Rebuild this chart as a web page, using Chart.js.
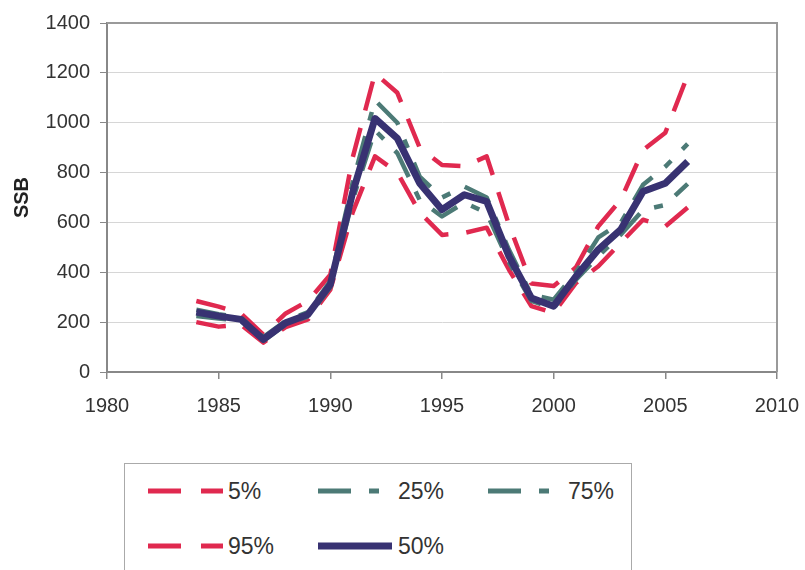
<!DOCTYPE html>
<html>
<head>
<meta charset="utf-8">
<script src="https://cdn.jsdelivr.net/npm/chart.js@4.4.1/dist/chart.umd.min.js"></script>
<style>
  html, body { margin: 0; padding: 0; background: #fff; overflow: hidden; }
  #wrap { position: relative; width: 805px; height: 570px; }
  #chart { position: absolute; left: 0; top: 0; }
  #legend {
    position: absolute; left: 124px; top: 463px; width: 508px; height: 130px;
    border: 1.5px solid #aaa; box-sizing: border-box;
    font-family: "Liberation Sans", Arial, sans-serif; font-size: 23px; color: #333;
  }
  .item { position: absolute; height: 30px; }
  .item svg { position: absolute; left: 0; top: 0; }
  .item span { position: absolute; top: 0; line-height: 30px; white-space: nowrap; }
</style>
</head>
<body>
<div id="wrap">
  <canvas id="chart" width="805" height="440"></canvas>
  <div id="legend"></div>
</div>
<script>
// SSB percentiles by year
const years = [1984, 1985, 1986, 1987, 1988, 1989, 1990, 1991, 1992, 1993, 1994, 1995,
               1996, 1997, 1998, 1999, 2000, 2001, 2002, 2003, 2004, 2005, 2006];
const p5  = [200, 182, 190, 118, 180, 211, 330, 640, 865, 800, 640, 550,
             558, 579, 410, 264, 237, 357, 424, 518, 611, 584, 660];
const p25 = [225, 215, 205, 125, 190, 222, 340, 690, 970, 878, 690, 624,
             680, 638, 440, 285, 255, 370, 464, 551, 650, 670, 755];
const p50 = [240, 224, 211, 131, 197, 231, 351, 720, 1017, 937, 757, 651,
             711, 684, 464, 297, 264, 384, 491, 571, 724, 757, 844];
const p75 = [250, 232, 218, 140, 205, 240, 365, 760, 1090, 1000, 784, 700,
             744, 700, 490, 310, 290, 400, 540, 598, 751, 824, 915];
const p95 = [285, 262, 235, 150, 235, 285, 390, 860, 1198, 1120, 900, 830,
             825, 865, 590, 355, 345, 420, 585, 690, 890, 960, 1190];
const xTicks = { min: 1980, max: 2010, step: 5 };
const yTicks = { min: 0, max: 1400, step: 200 };

const FONT = '"Liberation Sans", Arial, sans-serif';
const RED = '#e0294f', TEAL = '#4c7a76', NAVY = '#383272';

const pts = vals => years.map((y, i) => ({ x: y, y: vals[i] }));

// median first so it sits on top
const series = [
  { label: '50%', data: p50, color: NAVY, width: 7, dash: [] },
  { label: '25%', data: p25, color: TEAL, width: 4.5, dash: [30, 16, 9, 16] },
  { label: '75%', data: p75, color: TEAL, width: 4.5, dash: [30, 16, 9, 16] },
  { label: '5%',  data: p5,  color: RED,  width: 4.5, dash: [30, 18] },
  { label: '95%', data: p95, color: RED,  width: 4.5, dash: [30, 18] },
];

// top + right edges of the plot box
const frame = {
  id: 'frame',
  afterDraw(chart) {
    const { ctx, chartArea: a } = chart;
    ctx.save();
    ctx.strokeStyle = '#9a9a9a';
    ctx.lineWidth = 2;
    ctx.beginPath();
    ctx.moveTo(a.left, a.top);
    ctx.lineTo(a.right, a.top);
    ctx.lineTo(a.right, a.bottom);
    ctx.stroke();
    ctx.restore();
  }
};

new Chart(document.getElementById('chart').getContext('2d'), {
  type: 'line',
  data: {
    datasets: series.map(s => ({
      label: s.label,
      data: pts(s.data),
      borderColor: s.color,
      borderWidth: s.width,
      borderDash: s.dash,
      borderCapStyle: 'butt',
      borderJoinStyle: 'round',
      pointRadius: 0,
      tension: 0,
      fill: false,
    })),
  },
  options: {
    responsive: false,
    animation: false,
    devicePixelRatio: 1,
    layout: { padding: { left: 0, right: 28, top: 23, bottom: 0 } },
    plugins: { legend: { display: false }, tooltip: { enabled: false } },
    scales: {
      x: {
        type: 'linear',
        min: xTicks.min, max: xTicks.max,
        ticks: { stepSize: xTicks.step, color: '#333', font: { family: FONT, size: 20 }, padding: 15,
                 maxRotation: 0, callback: v => String(v) },
        grid: { drawOnChartArea: false, drawTicks: true, tickLength: 7, color: '#888', lineWidth: 1.5 },
        border: { color: '#888', width: 2 },
        afterFit: s => { s.height = 68; s.paddingLeft = 0; s.paddingRight = 0; },
      },
      y: {
        min: yTicks.min, max: yTicks.max,
        ticks: { stepSize: yTicks.step, color: '#333', font: { family: FONT, size: 20 }, padding: 10,
                 callback: v => String(v) },
        grid: { color: '#d6d6d6', lineWidth: 1, tickLength: 7, tickColor: '#888' },
        border: { color: '#888', width: 2 },
        title: { display: true, text: 'SSB', color: '#222', padding: 10,
                 font: { family: FONT, size: 20, weight: 'bold' } },
        afterFit: s => { s.width = 107; },
      },
    },
  },
  plugins: [frame],
});

// legend box (positions taken from the figure)
const legendItems = [
  { s: series[3], x: 23,  y: 12, w: 75 },
  { s: series[1], x: 193, y: 12, w: 62 },
  { s: series[2], x: 363, y: 12, w: 62 },
  { s: series[4], x: 23,  y: 67, w: 75 },
  { s: series[0], x: 193, y: 67, w: 74 },
];
const legend = document.getElementById('legend');
legendItems.forEach(({ s, x, y, w }) => {
  const d = document.createElement('div');
  d.className = 'item';
  d.style.left = x + 'px';
  d.style.top = y + 'px';
  const dash = s.color === RED ? '33 20' : s.color === NAVY ? 'none' : '33 18 10 18';
  d.innerHTML =
    `<svg width="${w}" height="30"><line x1="0" y1="15" x2="${w}" y2="15" stroke="${s.color}" ` +
    `stroke-width="${s.color === NAVY ? 7 : 5}" stroke-dasharray="${dash}"/></svg>` +
    `<span style="left:80px">${s.label}</span>`;
  legend.appendChild(d);
});
</script>
</body>
</html>
